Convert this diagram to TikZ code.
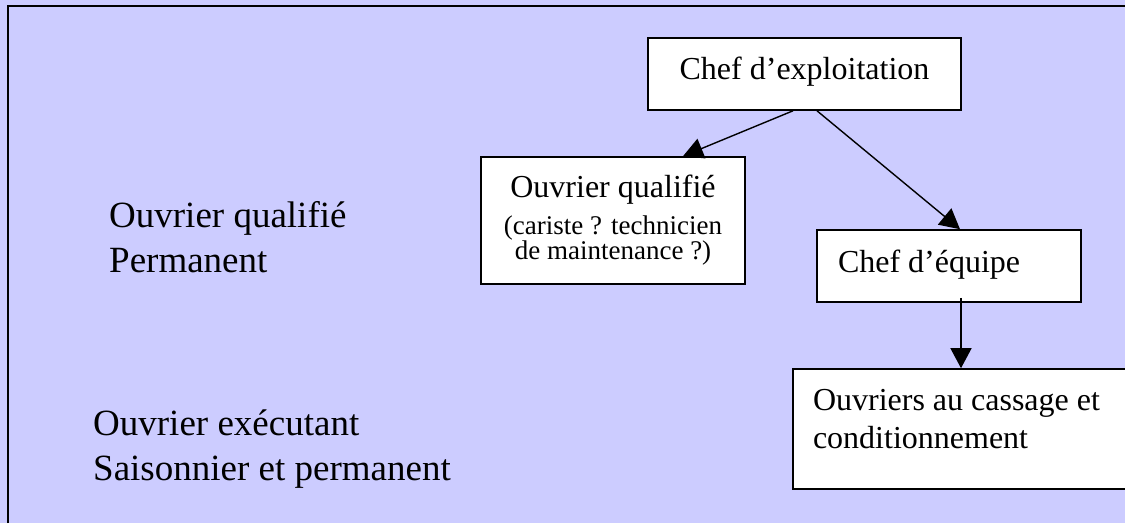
\documentclass[tikz,border=0pt]{standalone}
\usepackage{fontspec}
\setmainfont{Liberation Serif}
\usetikzlibrary{arrows.meta}
\definecolor{bgblue}{HTML}{CCCCFF}
\begin{document}
\begin{tikzpicture}[x=1pt,y=-1pt,
  box/.style={draw=black, line width=1.6pt, fill=white, inner sep=0pt},
  conn/.style={line width=1.4pt, -{Triangle[length=20pt,width=21pt]}},
  bigfont/.style={font=\fontsize{32}{38}\selectfont},
  sidetext/.style={anchor=base west, inner sep=0pt, text width=420pt, align=flush left, font=\fontsize{37}{45}\selectfont}]
\useasboundingbox (0,0) rectangle (1125,523);
\clip (0,0) rectangle (1125,523);
\fill[bgblue] (0,0) rectangle (1125,523);
\draw[line width=2pt] (8,523) -- (8,6) -- (1125,6);

\node[box, bigfont, minimum width=313pt, minimum height=72pt, text height=25pt, text depth=15pt] (ce) at (804.5,74) {Chef d’exploitation};

\node[box, minimum width=264pt, minimum height=127pt, text width=250pt, align=flush center, text height=25pt, text depth=72pt] (oq) at (613,220.5)
  {{\fontsize{32}{36}\selectfont Ouvrier qualifié\par}\vspace{11pt}{\fontsize{27}{25}\selectfont (cariste ? technicien\\de maintenance ?)\par}};

\node[box, bigfont, minimum width=264pt, minimum height=72pt, text width=222pt, align=flush left, text height=25pt, text depth=13pt] (ceq) at (949,266) {Chef d’équipe};

\node[box, bigfont, minimum width=342pt, minimum height=120pt, text width=302pt, align=flush left, text height=25pt, text depth=63pt] (ouv) at (964,429) {Ouvriers au cassage et\\conditionnement};

\node[sidetext] (lq) at (109,227) {Ouvrier qualifié\\Permanent};
\node[sidetext] (le) at (93,435) {Ouvrier exécutant\\Saisonnier et permanent};

\draw[conn] ([xshift=-11.5pt]ce.south) -- ([xshift=70pt]oq.north);
\draw[conn] ([xshift=12.5pt]ce.south) -- ([xshift=11pt]ceq.north);
\draw[conn] ([xshift=12pt,yshift=5pt]ceq.south) -- ([xshift=-3pt]ouv.north);
\end{tikzpicture}
\end{document}
